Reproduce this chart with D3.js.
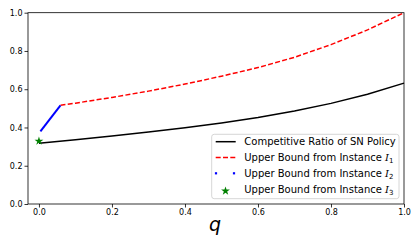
<!DOCTYPE html>
<html><head><meta charset="utf-8">
<script src="https://cdn.jsdelivr.net/npm/d3@7"></script>
<style>body{margin:0;background:#fff}svg{display:block}text{font-family:'DejaVu Sans'}</style>
</head><body>
<svg id="c" width="420" height="246"></svg>
<script>
const xTicks = [0.0, 0.2, 0.4, 0.6, 0.8, 1.0];
const yTicks = [0.0, 0.2, 0.4, 0.6, 0.8, 1.0];
const snQ = [0, 0.1, 0.2, 0.3, 0.4, 0.5, 0.6, 0.7, 0.8, 0.9, 1.0];
const snRatio = [0.317, 0.336, 0.356, 0.376, 0.398, 0.423, 0.452, 0.486, 0.526, 0.574, 0.632];
const i1Q = [0.059, 0.1, 0.2, 0.3, 0.4, 0.5, 0.6, 0.7, 0.8, 0.9, 1.0];
const i1Bound = [0.516, 0.527, 0.557, 0.590, 0.627, 0.668, 0.713, 0.767, 0.833, 0.91, 1.0];
const i2Q = [0.004, 0.059];
const i2Bound = [0.38, 0.516];
const i3Q = [0.0];
const i3Bound = [0.334];
const legendLabels = ["Competitive Ratio of SN Policy", "Upper Bound from Instance ", "Upper Bound from Instance ", "Upper Bound from Instance "];

const svg = d3.select("#c");
const L = 28, R = 404, T = 12.7, B = 204;
const x = d3.scaleLinear().domain([-0.03, 1.0]).range([L, R]);
const y = d3.scaleLinear().domain([0, 1]).range([B, T]);

const line = d3.line().x(d => x(d[0])).y(d => y(d[1]));
const g = svg.append("g");

g.append("path").datum(snQ.map((q, i) => [q, snRatio[i]])).attr("d", line)
  .attr("fill", "none").attr("stroke", "#000").attr("stroke-width", 1.5);
g.append("path").datum(i1Q.map((q, i) => [q, i1Bound[i]])).attr("d", line)
  .attr("fill", "none").attr("stroke", "#ff0000").attr("stroke-width", 1.5).attr("stroke-dasharray", "5,2.3");
g.append("path").datum(i2Q.map((q, i) => [q, i2Bound[i]])).attr("d", line)
  .attr("fill", "none").attr("stroke", "#0000ff").attr("stroke-width", 2);
const star = d3.symbol().type(d3.symbolStar).size(24);
g.selectAll(".st").data(i3Q).enter().append("path")
  .attr("d", star).attr("transform", (d, i) => `translate(${x(d)},${y(i3Bound[i]) + 1})`)
  .attr("fill", "#008000");

// axes
const xa = svg.append("g").attr("transform", `translate(0,${B})`)
  .call(d3.axisBottom(x).tickValues(xTicks).tickFormat(d3.format(".1f")).tickSize(3.5).tickSizeOuter(0));
const ya = svg.append("g").attr("transform", `translate(${L},0)`)
  .call(d3.axisLeft(y).tickValues(yTicks).tickFormat(d3.format(".1f")).tickSize(3.5).tickSizeOuter(0));
[xa, ya].forEach(a => {
  a.select(".domain").remove();
  a.selectAll("line").attr("stroke", "#000").attr("stroke-width", 0.8);
  a.selectAll("text").style("font-family", "'DejaVu Sans'").style("font-size", "8px").attr("fill", "#000");
});
xa.selectAll("text").attr("dy", "0.71em").attr("y", 5.5);
ya.selectAll("text").attr("x", -5.5);
// spines
svg.append("rect").attr("x", L).attr("y", T).attr("width", R - L).attr("height", B - T)
  .attr("fill", "none").attr("stroke", "#000").attr("stroke-width", 0.8);

svg.append("text").attr("x", 215).attr("y", 231).attr("text-anchor", "middle")
  .style("font-family", "'DejaVu Sans'").style("font-style", "oblique").style("font-size", "19px").text("q");

// legend
const lg = svg.append("g");
lg.append("rect").attr("x", 211.7).attr("y", 134.3).attr("width", 187.3).attr("height", 64.4)
  .attr("rx", 2.5).attr("fill", "#fff").attr("fill-opacity", 0.8).attr("stroke", "#cccccc").attr("stroke-width", 0.8);
const rows = [141.7, 157.5, 173.3, 189.5];
lg.append("line").attr("x1", 215.7).attr("x2", 235.7).attr("y1", rows[0]).attr("y2", rows[0]).attr("stroke", "#000").attr("stroke-width", 1.5);
lg.append("line").attr("x1", 215.7).attr("x2", 235.7).attr("y1", rows[1]).attr("y2", rows[1]).attr("stroke", "#ff0000").attr("stroke-width", 1.5).attr("stroke-dasharray", "5,2.3");
[216, 234].forEach(cx => lg.append("rect").attr("x", cx - 1.1).attr("y", rows[2] - 1.1).attr("width", 2.2).attr("height", 2.2).attr("fill", "#0000ff"));
lg.append("path").attr("d", star).attr("transform", `translate(225.5,${rows[3] + 1.5})`).attr("fill", "#008000");
const subs = [null, "1", "2", "3"];
legendLabels.forEach((t, i) => {
  const tx = lg.append("text").attr("x", 244.3).attr("y", rows[i]).attr("dy", "0.35em")
    .style("font-family", "'DejaVu Sans'").style("font-size", "10px").attr("fill", "#000");
  tx.append("tspan").text(t);
  if (subs[i]) {
    tx.append("tspan").style("font-family", "'DejaVu Serif'").style("font-style", "italic").text("I");
    tx.append("tspan").style("font-size", "7px").attr("dy", "0.3em").text(subs[i]);
  }
});
</script>
</body></html>
